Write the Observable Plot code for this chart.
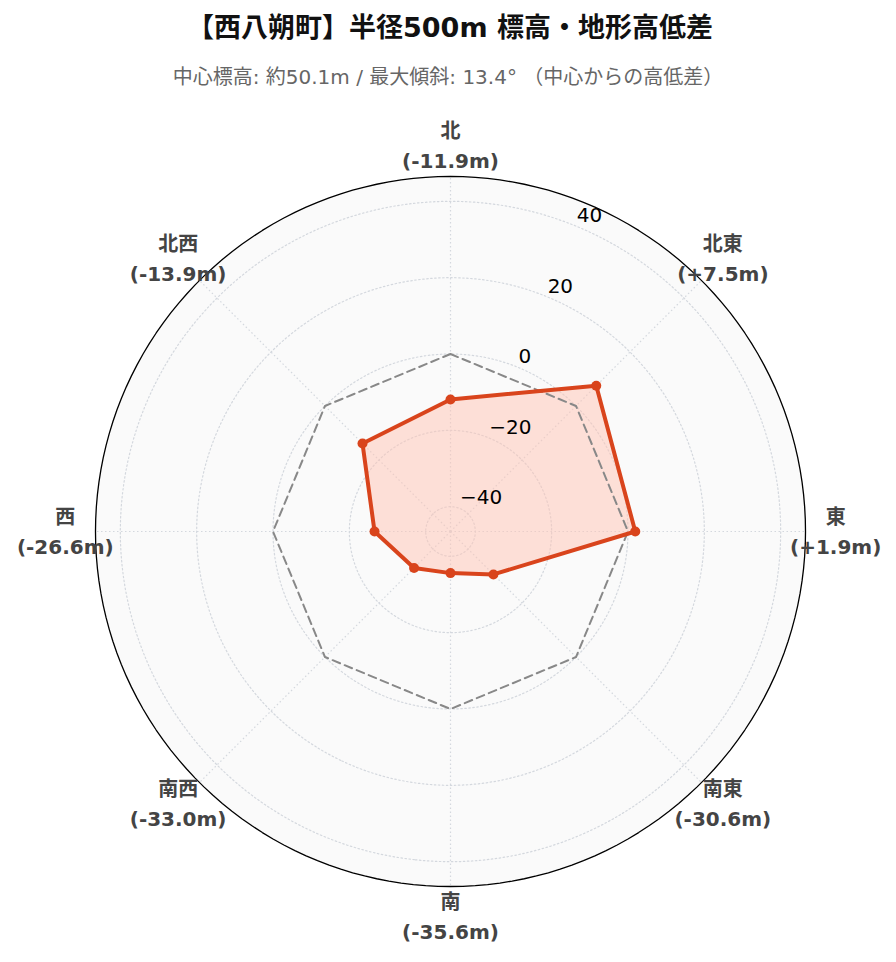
<!DOCTYPE html>
<html>
<head>
<meta charset="utf-8">
<script src="https://cdn.jsdelivr.net/npm/d3@7"></script>
<script src="https://cdn.jsdelivr.net/npm/@observablehq/plot@0.6"></script>
<style>
  body { margin: 0; background: #fff; width: 896px; }
  #title { height: 56px; line-height: 56px; text-align: center; font-family: "DejaVu Sans", "Noto Sans CJK JP", sans-serif; font-weight: bold; font-size: 27px; color: #111; padding-left: 4px; }
  #subtitle { height: 44px; line-height: 42px; text-align: center; font-family: "DejaVu Sans", "Noto Sans CJK JP", sans-serif; font-size: 20px; color: #666; }
  #chart svg { display: block; }
</style>
</head>
<body>
<div id="title">【西八朔町】半径500m 標高・地形高低差</div>
<div id="subtitle">中心標高: 約50.1m / 最大傾斜: 13.4° （中心からの高低差）</div>
<div id="chart"></div>
<script>
const directions = ["北", "北東", "東", "南東", "南", "南西", "西", "北西"];
const bearings = [0, 45, 90, 135, 180, 225, 270, 315];
const values = [-11.9, 7.5, 1.9, -30.6, -35.6, -33.0, -26.6, -13.9];
const tickValues = [-40, -20, 0, 20, 40];
const radialDomain = [-46.5, 46.5];
const tickBearing = 22.5;

// radial value -> angular distance (deg) from the pole of an azimuthal-equidistant projection
const rDeg = d3.scaleLinear(radialDomain, [0, 90]);
const lat = v => 90 - rDeg(v);
const lon = b => 180 - b;

const fmt = v => (v >= 0 ? "+" : "") + v.toFixed(1);
const data = directions.map((d, i) => ({
  dir: d, bearing: bearings[i], value: values[i],
  label: `${d}\n(${fmt(values[i])}m)`
}));

const outer = d3.geoCircle().center([0, 90]).radius(90)();
const frameCircle = d3.geoCircle().center([0, 90]).radius(90 * 420 / 355)();
const gridCircles = tickValues.map(t => d3.geoCircle().center([0, 90]).radius(rDeg(t))());
const labelValue = radialDomain[1] * 1.17;

const chart = Plot.plot({
  width: 896,
  height: 862,
  marginLeft: 30,
  marginRight: 26,
  marginTop: 11,
  marginBottom: 11,
  style: { fontFamily: "'DejaVu Sans', 'Noto Sans CJK JP', sans-serif", background: "white" },
  projection: {
    type: "azimuthal-equidistant",
    rotate: [0, -90],
    domain: frameCircle,
    inset: 0
  },
  marks: [
    Plot.geo([outer], { fill: "#fafafa", stroke: "none" }),
    Plot.geo(gridCircles, { fill: "none", stroke: "#d4d8de", strokeWidth: 1.2, strokeDasharray: "1.5,2.5" }),
    Plot.link(bearings, { x1: b => lon(b), y1: 90, x2: b => lon(b), y2: 0, stroke: "#d4d8de", strokeWidth: 1.2, strokeDasharray: "1.5,2.5" }),
    Plot.area(data, { x1: d => lon(d.bearing), y1: d => lat(d.value), x2: 0, y2: 90, fill: "#ffc4b4", fillOpacity: 0.5, curve: "linear-closed" }),
    Plot.line(data, { x: d => lon(d.bearing), y: d => lat(0), stroke: "#888", strokeWidth: 2, strokeDasharray: "8,5", curve: "linear-closed" }),
    Plot.line(data, { x: d => lon(d.bearing), y: d => lat(d.value), stroke: "#d9441c", strokeWidth: 4, curve: "linear-closed" }),
    Plot.dot(data, { x: d => lon(d.bearing), y: d => lat(d.value), r: 5, fill: "#d9441c" }),
    Plot.geo([outer], { fill: "none", stroke: "black", strokeWidth: 1.3 }),
    Plot.text(tickValues, { x: lon(tickBearing), y: t => lat(t), text: t => (t < 0 ? "\u2212" + Math.abs(t) : String(t)), textAnchor: "start", lineAnchor: "middle", dy: -10.5, fontSize: 20, fill: "black" }),
    Plot.text(data, { x: d => lon(d.bearing), y: d => lat(labelValue), text: "label", fontSize: 20, fontWeight: "bold", fill: "#444", lineHeight: 1.5, lineAnchor: "middle", dy: -2.5 })
  ]
});
document.getElementById("chart").appendChild(chart);
</script>
</body>
</html>
